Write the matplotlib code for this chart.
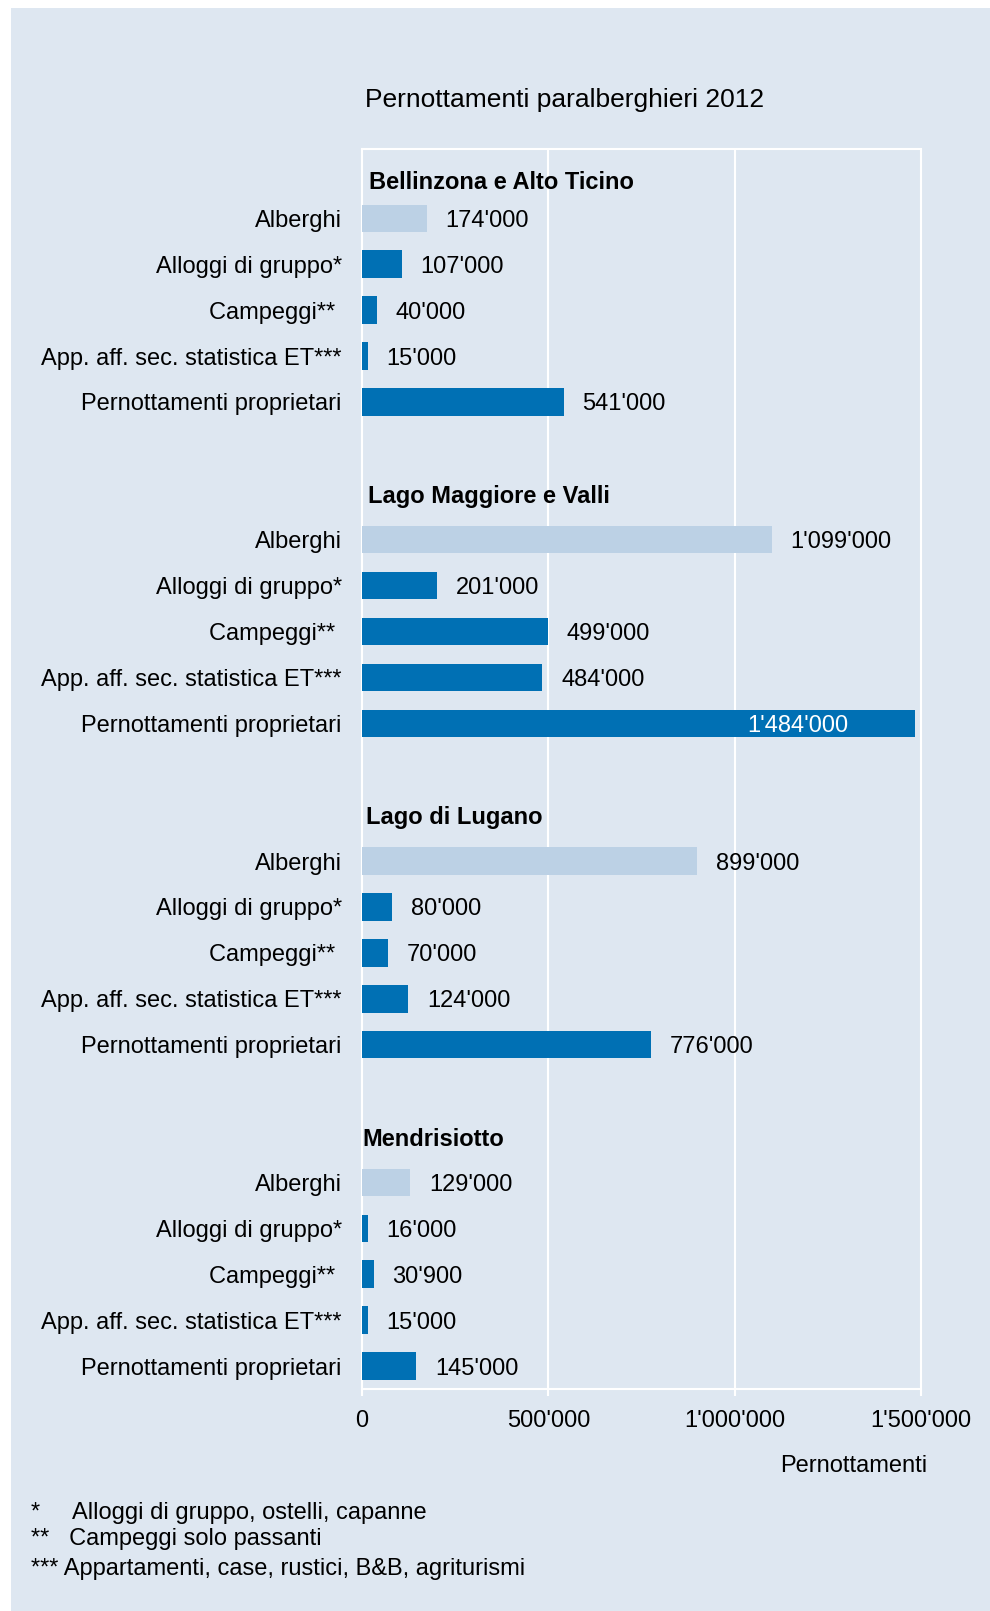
import matplotlib
matplotlib.use("Agg")
import matplotlib.pyplot as plt
from matplotlib.patches import Rectangle

plt.rcParams['font.family'] = ['Liberation Sans', 'DejaVu Sans']

regioni = ["Bellinzona e Alto Ticino", "Lago Maggiore e Valli", "Lago di Lugano", "Mendrisiotto"]
categorie = ["Alberghi", "Alloggi di gruppo*", "Campeggi** ", "App. aff. sec. statistica ET***", "Pernottamenti proprietari"]
bellinzona = [174000, 107000, 40000, 15000, 541000]
maggiore = [1099000, 201000, 499000, 484000, 1484000]
lugano = [899000, 80000, 70000, 124000, 776000]
mendrisiotto = [129000, 16000, 30900, 15000, 145000]
valori = [bellinzona, maggiore, lugano, mendrisiotto]
xticks = [0, 500000, 1000000, 1500000]
note = ["*     Alloggi di gruppo, ostelli, capanne",
        "**   Campeggi solo passanti",
        "*** Appartamenti, case, rustici, B&B, agriturismi"]

bg = '#dee7f1'
chiaro = '#bcd1e5'
scuro = '#0070b4'
fs = 17

def fmt(v):
    return f"{v:,}".replace(",", "'")

fig = plt.figure(figsize=(9.9, 16.11), dpi=100, facecolor='white')
fig.patches.append(Rectangle((11 / 990, 0), 1, 1 - 8 / 1611, transform=fig.transFigure,
                             facecolor=bg, edgecolor='none', zorder=-10))

ax = fig.add_axes([362 / 990, 1 - 1389 / 1611, (921 - 362) / 990, (1389 - 149) / 1611])
ax.set_facecolor(bg)

title_dy = [0.84, 1.0, 1.0, 1.0]
title_dx = [5, 4, 3, 0]
ypos, ylabels = [], []
for g, (reg, vals) in enumerate(zip(regioni, valori)):
    base = 7 * g
    ys = [base + i for i in range(len(vals))]
    cols = [chiaro] + [scuro] * (len(vals) - 1)
    ax.barh(ys, vals, height=0.6, color=cols, zorder=3)
    for y, v in zip(ys, vals):
        if v > 1300000:
            ax.annotate(fmt(v), (v, y), xytext=(-48, 0), textcoords='offset points',
                        ha='right', va='center_baseline', fontsize=fs, color='white', zorder=4)
        else:
            ax.annotate(fmt(v), (v, y), xytext=(13.5, 0), textcoords='offset points',
                        ha='left', va='center_baseline', fontsize=fs, color='black', zorder=4)
    ax.annotate(reg, (0, base - title_dy[g]), xytext=(title_dx[g], 0), textcoords='offset points',
                ha='left', va='center_baseline', fontsize=fs, fontweight='bold', color='black')
    ypos += ys
    ylabels += categorie

ax.set_yticks(ypos)
ax.set_yticklabels(ylabels, fontsize=fs, va='center_baseline')
ax.tick_params(axis='y', length=0, pad=14.5)
ax.set_ylim(25.5, -1.51)

ax.set_xlim(0, 1500000)
ax.set_xticks(xticks)
ax.set_xticklabels([fmt(t) for t in xticks], fontsize=fs)
ax.tick_params(axis='x', length=5, width=1.5, color='white', pad=10)
for t in xticks[1:-1]:
    ax.axvline(t, color='white', lw=1.5, zorder=1)
for s in ax.spines.values():
    s.set_color('white')
    s.set_linewidth(1.5)

fig.text(565 / 990, 1 - 97 / 1611, "Pernottamenti paralberghieri 2012", ha='center', va='center_baseline', fontsize=19)
fig.text(854 / 990, 1 - 1463 / 1611, "Pernottamenti", ha='center', va='center_baseline', fontsize=fs)
for i, (n, y) in enumerate(zip(note, [1511, 1537, 1567])):
    fig.text(31 / 990, 1 - y / 1611, n, ha='left', va='center_baseline', fontsize=fs)

fig.savefig('out.png', dpi=100, facecolor='white')
